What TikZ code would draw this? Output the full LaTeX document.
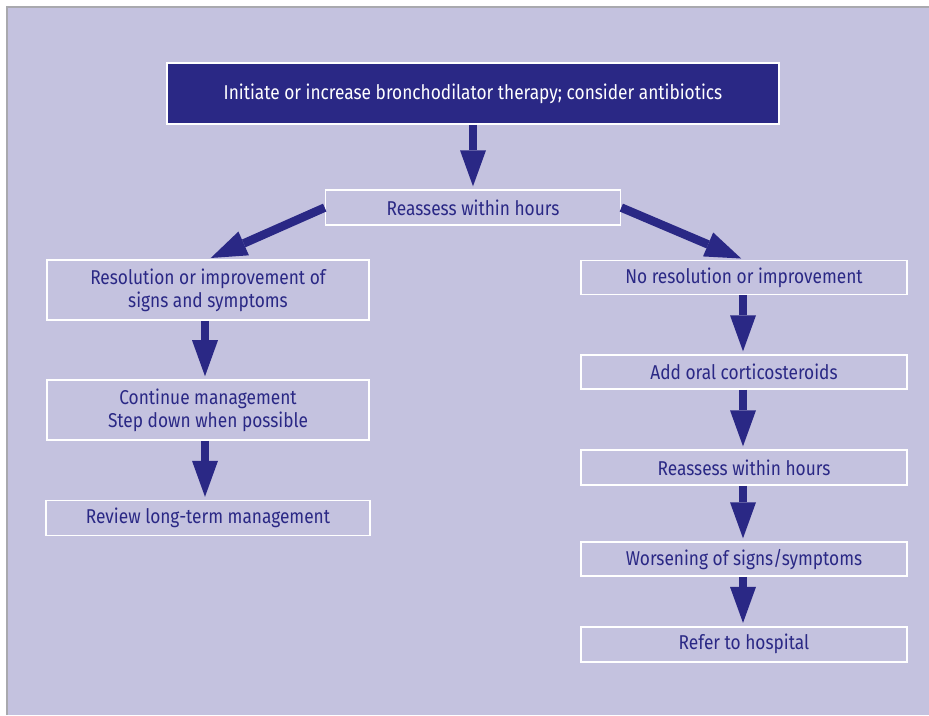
\documentclass[tikz,border=0pt]{standalone}
\usepackage{fontspec}
\setmainfont[FakeStretch=0.865]{Fira Sans}
\usepackage{xcolor}
\usetikzlibrary{positioning, arrows.meta}

\definecolor{bgfill}{HTML}{C4C2DF}
\definecolor{navy}{HTML}{2A2885}
\definecolor{frameline}{HTML}{A9A9AE}

\tikzset{
    stepbox/.style={rectangle, draw=white, line width=1.6pt, fill=bgfill,
        text=navy, font=\fontsize{20}{23}\selectfont, align=center, inner sep=0pt},
    bigarrow/.style={-{Triangle[width=26pt, length=36pt, line width=0pt]},
        line width=8.5pt, navy, shorten >=3pt},
}

\begin{document}
\begin{tikzpicture}[x=1pt, y=-1pt]

% ── Page and panel ──
\useasboundingbox (0,0) rectangle (929,715);
\fill[white] (0,0) rectangle (929,715);
\fill[bgfill] (7,7) rectangle (929,715);
\draw[frameline, line width=1.5pt] (7,715) -- (7,7) -- (929,7);

% ══════════════════════════════════════════════
% Top: initial therapy
% ══════════════════════════════════════════════
\node[stepbox, fill=navy, text=white, minimum width=612pt, minimum height=61pt]
    (therapy) at (473,93.5) {Initiate or increase bronchodilator therapy; consider antibiotics};
\node[stepbox, minimum width=295pt, minimum height=35pt,
    below=64.5pt of therapy] (reassess) {Reassess within hours};

% ══════════════════════════════════════════════
% Left branch: improvement
% ══════════════════════════════════════════════
\node[stepbox, minimum width=322pt, minimum height=60pt]
    (improved) at (208,290) {Resolution or improvement of\\signs and symptoms};
\node[stepbox, minimum width=322pt, minimum height=60pt,
    below=58.4pt of improved] (continue) {Continue management\\Step down when possible};
\node[stepbox, minimum width=324pt, minimum height=35pt,
    below=59pt of continue] (review) {Review long-term management};

% ══════════════════════════════════════════════
% Right branch: no improvement
% ══════════════════════════════════════════════
\node[stepbox, minimum width=326pt, minimum height=34pt]
    (noimprove) at (744,277.5) {No resolution or improvement};
\node[stepbox, minimum width=326pt, minimum height=34pt,
    below=59pt of noimprove] (steroids) {Add oral corticosteroids};
\node[stepbox, minimum width=326pt, minimum height=35pt,
    below=59.4pt of steroids] (reassesstwo) {Reassess within hours};
\node[stepbox, minimum width=326pt, minimum height=34pt,
    below=55.4pt of reassesstwo] (worsening) {Worsening of signs/symptoms};
\node[stepbox, minimum width=326pt, minimum height=35pt,
    below=49pt of worsening] (hospital) {Refer to hospital};

% ══════════════════════════════════════════════
% Arrows
% ══════════════════════════════════════════════
\draw[bigarrow] (therapy.south) -- (therapy.south |- reassess.north);
\draw[bigarrow] (reassess.west) -- (improved.north);
\draw[bigarrow] (reassess.east) -- (noimprove.north);

\draw[bigarrow] ([xshift=-3pt]improved.south) -- ([xshift=-3pt]continue.north);
\draw[bigarrow] ([xshift=-3pt]continue.south) -- ([xshift=-3pt]review.north);

\draw[bigarrow] ([xshift=-1pt]noimprove.south) -- ([xshift=-1pt]steroids.north);
\draw[bigarrow] ([xshift=-1pt]steroids.south) -- ([xshift=-1pt]reassesstwo.north);
\draw[bigarrow] ([xshift=-1pt]reassesstwo.south) -- ([xshift=-1pt]worsening.north);
\draw[bigarrow] ([xshift=-1pt]worsening.south) -- ([xshift=-1pt]hospital.north);

\end{tikzpicture}
\end{document}
